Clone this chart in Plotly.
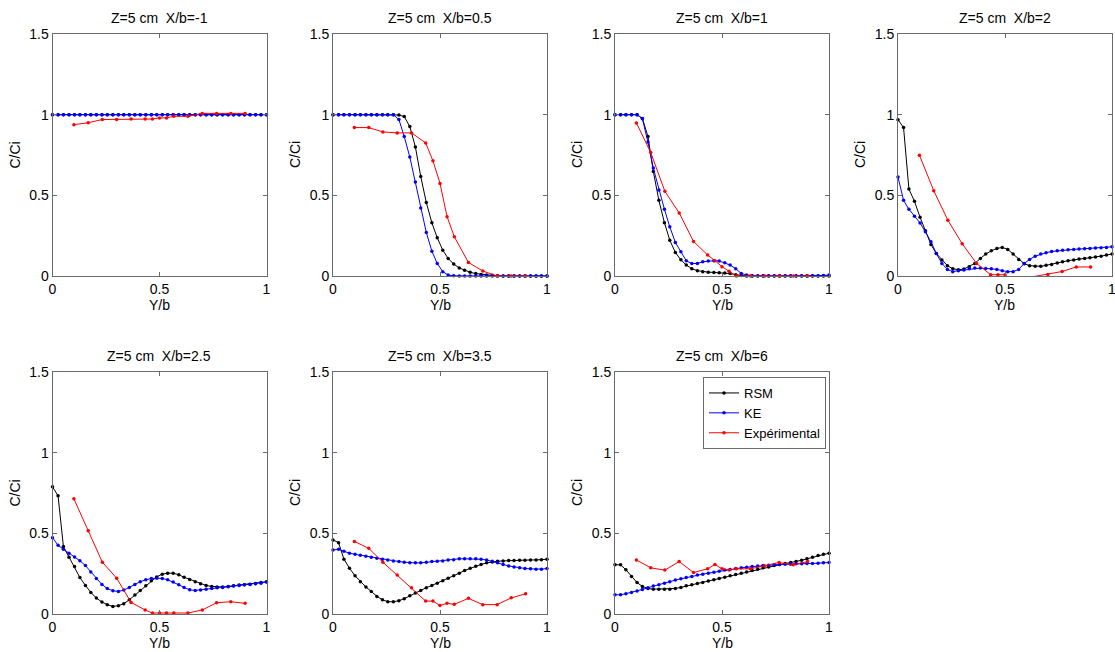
import plotly.graph_objects as go

# Transverse sample positions Y/b (simulation mesh and measurement stations)
Y_SIM = [0.000, 0.026, 0.051, 0.077, 0.103, 0.128, 0.154, 0.179, 0.205, 0.231,
         0.256, 0.282, 0.308, 0.333, 0.359, 0.385, 0.410, 0.436, 0.462, 0.487,
         0.513, 0.538, 0.564, 0.590, 0.615, 0.641, 0.667, 0.692, 0.718, 0.744,
         0.769, 0.795, 0.821, 0.846, 0.872, 0.897, 0.923, 0.949, 0.974, 1.000]
Y_EXP = [0.100, 0.167, 0.233, 0.300, 0.367, 0.433, 0.467, 0.500, 0.533, 0.567,
         0.633, 0.700, 0.767, 0.833, 0.900]

STATIONS = ["-1", "0.5", "1", "2", "2.5", "3.5", "6"]

# X/b = -1
RSM_1 = [1.0, 1.0, 1.0, 1.0, 1.0, 1.0, 1.0, 1.0, 1.0, 1.0,
         1.0, 1.0, 1.0, 1.0, 1.0, 1.0, 1.0, 1.0, 1.0, 1.0,
         1.0, 1.0, 1.0, 1.0, 1.0, 1.0, 1.0, 1.0, 1.0, 1.0,
         1.0, 1.0, 1.0, 1.0, 1.0, 1.0, 1.0, 1.0, 1.0, 1.0]
KE_1 = [1.0, 1.0, 1.0, 1.0, 1.0, 1.0, 1.0, 1.0, 1.0, 1.0,
        1.0, 1.0, 1.0, 1.0, 1.0, 1.0, 1.0, 1.0, 1.0, 1.0,
        1.0, 1.0, 1.0, 1.0, 1.0, 1.0, 1.0, 1.0, 1.0, 1.0,
        1.0, 1.0, 1.0, 1.0, 1.0, 1.0, 1.0, 1.0, 1.0, 1.0]
EXP_1 = [0.938, 0.95, 0.97, 0.97, 0.973, 0.973, 0.973, 0.98, 0.98, 0.99,
         0.99, 1.008, 1.008, 1.008, 1.008]

# X/b = 0.5
RSM_2 = [1.0, 1.0, 1.0, 1.0, 1.0, 1.0, 1.0, 1.0, 1.0, 1.0,
         1.0, 1.0, 0.998, 0.988, 0.926, 0.80, 0.617, 0.455, 0.33, 0.237,
         0.16, 0.109, 0.074, 0.05, 0.035, 0.023, 0.015, 0.01, 0.006, 0.004,
         0.002, 0.0, 0.0, 0.0, 0.0, 0.0, 0.0, 0.0, 0.0, 0.0]
KE_2 = [1.0, 1.0, 1.0, 1.0, 1.0, 1.0, 1.0, 1.0, 1.0, 1.0,
        1.0, 1.0, 0.97, 0.864, 0.737, 0.582, 0.422, 0.27, 0.154, 0.078,
        0.027, 0.006, 0.001, 0.0, 0.0, 0.0, 0.0, 0.0, 0.0, 0.0,
        0.0, 0.0, 0.0, 0.0, 0.0, 0.0, 0.0, 0.0, 0.0, 0.0]
EXP_2 = [0.92, 0.92, 0.893, 0.887, 0.887, 0.825, 0.714, 0.574, 0.368, 0.243,
         0.084, 0.031, 0.0, 0.0, 0.0]

# X/b = 1
RSM_3 = [1.0, 1.0, 1.0, 1.0, 1.0, 0.977, 0.864, 0.648, 0.469, 0.33,
         0.222, 0.146, 0.1, 0.068, 0.045, 0.033, 0.027, 0.024, 0.022, 0.02,
         0.018, 0.015, 0.008, 0.003, 0.0, 0.0, 0.0, 0.0, 0.0, 0.0,
         0.0, 0.0, 0.0, 0.0, 0.0, 0.0, 0.0, 0.0, 0.0, 0.0]
KE_3 = [1.0, 1.0, 1.0, 1.0, 1.0, 0.975, 0.83, 0.669, 0.533, 0.414,
        0.305, 0.208, 0.15, 0.095, 0.077, 0.078, 0.088, 0.093, 0.095, 0.093,
        0.082, 0.068, 0.045, 0.016, 0.006, 0.002, 0.001, 0.001, 0.001, 0.001,
        0.001, 0.001, 0.001, 0.001, 0.001, 0.001, 0.002, 0.002, 0.003, 0.006]
EXP_3 = [0.949, 0.765, 0.525, 0.391, 0.214, 0.13, 0.095, 0.058, 0.029, 0.0,
         0.0, 0.0, 0.0, 0.0, 0.0]

# X/b = 2
RSM_4 = [0.969, 0.92, 0.539, 0.463, 0.364, 0.28, 0.195, 0.14, 0.099, 0.064,
         0.045, 0.039, 0.043, 0.058, 0.078, 0.109, 0.136, 0.156, 0.171, 0.177,
         0.165, 0.136, 0.103, 0.076, 0.064, 0.06, 0.06, 0.066, 0.072, 0.08,
         0.088, 0.095, 0.099, 0.105, 0.109, 0.113, 0.117, 0.123, 0.13, 0.136]
KE_4 = [0.613, 0.469, 0.414, 0.37, 0.329, 0.274, 0.212, 0.14, 0.078, 0.041,
        0.027, 0.033, 0.037, 0.045, 0.049, 0.049, 0.047, 0.045, 0.041, 0.033,
        0.027, 0.027, 0.041, 0.078, 0.103, 0.123, 0.136, 0.144, 0.152, 0.156,
        0.16, 0.162, 0.165, 0.167, 0.169, 0.171, 0.173, 0.175, 0.177, 0.181]
EXP_4 = [0.749, 0.529, 0.346, 0.2, 0.078, 0.008, 0.008, 0.008, -0.03, -0.03,
         -0.004, 0.01, 0.028, 0.056, 0.056]

# X/b = 2.5
RSM_5 = [0.788, 0.733, 0.418, 0.352, 0.294, 0.226, 0.177, 0.134, 0.099, 0.074,
         0.058, 0.047, 0.051, 0.064, 0.088, 0.117, 0.146, 0.175, 0.206, 0.23,
         0.247, 0.253, 0.253, 0.243, 0.228, 0.214, 0.2, 0.187, 0.177, 0.171,
         0.167, 0.167, 0.171, 0.175, 0.179, 0.181, 0.185, 0.189, 0.195, 0.2]
KE_5 = [0.473, 0.426, 0.401, 0.377, 0.354, 0.33, 0.3, 0.261, 0.22, 0.183,
        0.158, 0.144, 0.14, 0.148, 0.165, 0.183, 0.2, 0.212, 0.22, 0.222,
        0.22, 0.212, 0.198, 0.181, 0.165, 0.15, 0.146, 0.148, 0.154, 0.158,
        0.163, 0.165, 0.169, 0.173, 0.177, 0.181, 0.183, 0.187, 0.191, 0.198]
EXP_5 = [0.714, 0.516, 0.321, 0.222, 0.072, 0.025, 0.006, 0.006, 0.006, 0.006,
         0.006, 0.025, 0.07, 0.076, 0.066]

# X/b = 3.5
RSM_6 = [0.459, 0.442, 0.34, 0.284, 0.237, 0.2, 0.167, 0.14, 0.109, 0.088,
         0.076, 0.076, 0.082, 0.095, 0.113, 0.13, 0.146, 0.163, 0.177, 0.191,
         0.206, 0.222, 0.237, 0.253, 0.27, 0.284, 0.296, 0.307, 0.317, 0.323,
         0.327, 0.329, 0.331, 0.331, 0.333, 0.333, 0.335, 0.335, 0.337, 0.339]
KE_6 = [0.397, 0.401, 0.389, 0.377, 0.37, 0.364, 0.358, 0.352, 0.346, 0.339,
        0.335, 0.329, 0.325, 0.321, 0.317, 0.317, 0.317, 0.321, 0.325, 0.327,
        0.329, 0.335, 0.337, 0.342, 0.342, 0.342, 0.342, 0.339, 0.335, 0.327,
        0.317, 0.307, 0.298, 0.292, 0.286, 0.282, 0.28, 0.278, 0.278, 0.282]
EXP_6 = [0.45, 0.407, 0.321, 0.241, 0.163, 0.08, 0.08, 0.053, 0.066, 0.06,
         0.097, 0.058, 0.058, 0.1, 0.125]

# X/b = 6
RSM_7 = [0.305, 0.305, 0.274, 0.233, 0.195, 0.171, 0.158, 0.154, 0.154, 0.154,
         0.154, 0.158, 0.165, 0.175, 0.181, 0.189, 0.195, 0.204, 0.212, 0.22,
         0.228, 0.237, 0.245, 0.253, 0.261, 0.27, 0.278, 0.286, 0.292, 0.3,
         0.307, 0.313, 0.319, 0.325, 0.333, 0.342, 0.352, 0.362, 0.37, 0.377]
KE_7 = [0.119, 0.119, 0.126, 0.134, 0.142, 0.152, 0.163, 0.173, 0.181, 0.191,
        0.2, 0.21, 0.218, 0.226, 0.233, 0.241, 0.247, 0.253, 0.259, 0.265,
        0.272, 0.276, 0.282, 0.286, 0.29, 0.294, 0.298, 0.3, 0.302, 0.305,
        0.307, 0.309, 0.309, 0.311, 0.311, 0.313, 0.313, 0.315, 0.317, 0.319]
EXP_7 = [0.335, 0.286, 0.272, 0.325, 0.257, 0.28, 0.307, 0.28, 0.272, 0.28,
         0.28, 0.298, 0.319, 0.305, 0.325]

RSM = [RSM_1, RSM_2, RSM_3, RSM_4, RSM_5, RSM_6, RSM_7]
KE = [KE_1, KE_2, KE_3, KE_4, KE_5, KE_6, KE_7]
EXP = [EXP_1, EXP_2, EXP_3, EXP_4, EXP_5, EXP_6, EXP_7]

SERIES_NAMES = ["RSM", "KE", "Expérimental"]
SERIES_COLORS = ["#000000", "#0000ff", "#ff0000"]

# ---- layout geometry (pixels) ----
W, H = 1115, 652
COL_LEFT = [52.5, 333, 615, 898]
PW = 214
ROWS = [(34, 276), (372, 614)]
AXIS_COLOR = "#6a6a6a"
FONT = "Liberation Sans, Arial, sans-serif"

fig = go.Figure()
annotations = []

for i in range(7):
    r, c = divmod(i, 4)
    left = COL_LEFT[c]
    top, bottom = ROWS[r]
    xd = [left / W, min((left + PW) / W, 1.0)]
    yd = [1 - bottom / H, 1 - top / H]
    n = i + 1
    xa = "x" if n == 1 else f"x{n}"
    ya = "y" if n == 1 else f"y{n}"
    xkey = "xaxis" if n == 1 else f"xaxis{n}"
    ykey = "yaxis" if n == 1 else f"yaxis{n}"

    for k, (yv, xv) in enumerate([(RSM[i], Y_SIM), (KE[i], Y_SIM), (EXP[i], Y_EXP)]):
        fig.add_trace(go.Scatter(
            x=xv, y=yv, xaxis=xa, yaxis=ya,
            mode="lines+markers",
            name=SERIES_NAMES[k],
            line=dict(color=SERIES_COLORS[k], width=1),
            marker=dict(color=SERIES_COLORS[k], size=3.5, symbol="circle"),
            showlegend=(i == 6),
            # only the X/b=2 measurements dip below zero; keep their markers inside the box
            cliponaxis=(i == 3 and k == 2),
        ))

    common = dict(showgrid=False, zeroline=False, showline=True, linecolor=AXIS_COLOR,
                  linewidth=1, mirror="ticks", ticks="inside", ticklen=4,
                  tickcolor=AXIS_COLOR, ticklabeloverflow="allow",
                  tickfont=dict(family=FONT, size=14, color="black"))
    fig.update_layout({
        xkey: dict(domain=xd, anchor=ya, range=[0, 1], tickvals=[0, 0.5, 1],
                   ticktext=["0", "0.5", "1"], **common),
        ykey: dict(domain=yd, anchor=xa, range=[0, 1.5], tickvals=[0, 0.5, 1, 1.5],
                   ticktext=["0", "0.5", "1", "1.5"], **common),
    })

    cx = (xd[0] + xd[1]) / 2
    cy = (yd[0] + yd[1]) / 2
    annotations.append(dict(
        text=f"Z=5 cm\u00a0\u00a0X/b={STATIONS[i]}", xref="paper", yref="paper",
        x=cx, y=yd[1], xanchor="center", yanchor="bottom", yshift=6,
        showarrow=False, font=dict(family=FONT, size=14, color="black")))
    annotations.append(dict(
        text="Y/b", xref="paper", yref="paper", x=cx, y=yd[0],
        xanchor="center", yanchor="top", yshift=-19,
        showarrow=False, font=dict(family=FONT, size=14, color="black")))
    annotations.append(dict(
        text="C/Ci", xref="paper", yref="paper", x=xd[0], y=cy,
        xanchor="center", yanchor="middle", xshift=-38, textangle=-90,
        showarrow=False, font=dict(family=FONT, size=14, color="black")))

fig.update_layout(
    width=W, height=H, margin=dict(l=0, r=0, t=0, b=0, autoexpand=False),
    paper_bgcolor="white", plot_bgcolor="white",
    font=dict(family=FONT, size=14, color="black"),
    annotations=annotations,
    legend=dict(x=703 / W, y=1 - 377 / H, xanchor="left", yanchor="top",
                bgcolor="white", bordercolor=AXIS_COLOR, borderwidth=1,
                font=dict(family=FONT, size=13, color="black"),
                itemwidth=30, tracegroupgap=0),
)

fig.write_html("out.html")
